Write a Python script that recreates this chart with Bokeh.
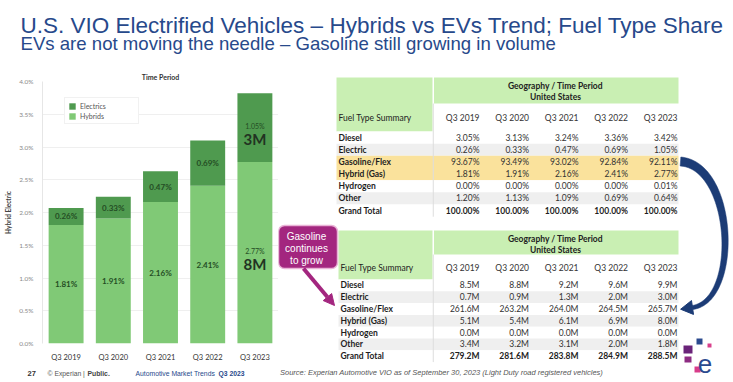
import numpy as np
from bokeh.plotting import figure
from bokeh.models import (ColumnDataSource, Range1d, FactorRange, Legend, LegendItem,
                          FixedTicker, PrintfTickFormatter, Arrow, NormalHead)
from bokeh.layouts import column, row
from bokeh.core.properties import value
from bokeh.embed import file_html
from bokeh.resources import INLINE

# ---------------- data ----------------
periods = ["Q3 2019", "Q3 2020", "Q3 2021", "Q3 2022", "Q3 2023"]
fuel_types = ["Diesel", "Electric", "Gasoline/Flex", "Hybrid (Gas)", "Hydrogen", "Other", "Grand Total"]

diesel_share = [3.05, 3.13, 3.24, 3.36, 3.42]
electric_share = [0.26, 0.33, 0.47, 0.69, 1.05]
gasoline_share = [93.67, 93.49, 93.02, 92.84, 92.11]
hybrid_share = [1.81, 1.91, 2.16, 2.41, 2.77]
hydrogen_share = [0.00, 0.00, 0.00, 0.00, 0.01]
other_share = [1.20, 1.13, 1.09, 0.69, 0.64]
total_share = [100.00, 100.00, 100.00, 100.00, 100.00]

diesel_vol = [8.5, 8.8, 9.2, 9.6, 9.9]
electric_vol = [0.7, 0.9, 1.3, 2.0, 3.0]
gasoline_vol = [261.6, 263.2, 264.0, 264.5, 265.7]
hybrid_vol = [5.1, 5.4, 6.1, 6.9, 8.0]
hydrogen_vol = [0.0, 0.0, 0.0, 0.0, 0.0]
other_vol = [3.4, 3.2, 3.1, 2.0, 1.8]
total_vol = [279.2, 281.6, 283.8, 284.9, 288.5]

y_ticks = [0.0, 0.5, 1.0, 1.5, 2.0, 2.5, 3.0, 3.5, 4.0]

title_text = "U.S. VIO Electrified Vehicles \u2013 Hybrids vs EVs Trend; Fuel Type Share"
subtitle_text = "EVs are not moving the needle \u2013 Gasoline still growing in volume"
source_text = "Source: Experian Automotive VIO as of September 30, 2023  (Light Duty road registered vehicles)"

# ---------------- styles ----------------
NAVY = "#27498b"
ELE = "#4f9a4f"
HYB = "#80c976"
LBL = "#244d24"
GREEN_HDR = "#c9efb3"
STRIPE = "#efefef"
YELLOW = "#fae29c"
PURPLE = "#a3267f"
ARROW_BLUE = "#1c3c76"
SANS = value("Liberation Sans")
LATO = value("Lato")

HDR_H = 58
FOOT_TOP = 364


def blank(width, height, xr, yr):
    p = figure(width=width, height=height, x_range=Range1d(*xr), y_range=Range1d(*yr),
               x_axis_type=None, y_axis_type=None, toolbar_location=None,
               output_backend="svg", min_border=0, outline_line_color=None)
    p.xgrid.visible = False
    p.ygrid.visible = False
    p.background_fill_color = "white"
    p.border_fill_color = "white"
    return p


# ---------------- header ----------------
H = blank(733, HDR_H, (0, 733), (HDR_H, 0))
H.text(x=[20], y=[25], text=[title_text], text_font=SANS, text_font_size="22.5px",
       text_color=NAVY, text_baseline="alphabetic", text_align="left")
H.text(x=[20], y=[43], text=[subtitle_text], text_font=SANS, text_font_size="18.6px",
       text_color=NAVY, text_baseline="alphabetic", text_align="left")

# ---------------- bar chart ----------------
FRAME_L, FRAME_T, FRAME_B = 42, 81, 346
C = figure(width=278, height=FOOT_TOP - HDR_H, x_range=FactorRange(*periods),
           y_range=Range1d(0, 4.0), toolbar_location=None, output_backend="svg",
           min_border_left=FRAME_L, min_border_right=0, min_border_top=FRAME_T - HDR_H,
           min_border_bottom=FOOT_TOP - FRAME_B, outline_line_color=None)
C.title.text = "Time Period"
C.title.align = "center"
C.title.text_font = "Lato"
C.title.text_font_size = "7px"
C.title.text_font_style = "bold"
C.title.text_color = "#333333"
C.title.standoff = 1

src = ColumnDataSource(dict(period=periods, hybrids=hybrid_share, electrics=electric_share))
rs = C.vbar_stack(["hybrids", "electrics"], x="period", width=0.74, color=[HYB, ELE],
                  line_color=None, source=src)

h_mid = [h / 2 for h in hybrid_share]
e_mid = [h + e / 2 for h, e in zip(hybrid_share, electric_share)]

C.text(x=periods[:4] + periods[:4], y=h_mid[:4] + e_mid[:4],
       text=[f"{v:.2f}%" for v in hybrid_share[:4] + electric_share[:4]],
       text_font=LATO, text_font_size="8px", text_font_style="bold", text_color=LBL,
       text_align="center", text_baseline="middle")
C.text(x=[periods[4], periods[4]], y=[h_mid[4], e_mid[4]],
       text=[f"{hybrid_share[4]:.2f}%", f"{electric_share[4]:.2f}%"],
       text_font=LATO, text_font_size="7px", text_color=LBL, y_offset=-2,
       text_align="center", text_baseline="middle")
C.text(x=[periods[4], periods[4]], y=[h_mid[4], e_mid[4]],
       text=[f"{hybrid_vol[4]:.0f}M", f"{electric_vol[4]:.0f}M"],
       text_font=LATO, text_font_size="15px", text_font_style="bold", text_color="#223322",
       y_offset=11, text_align="center", text_baseline="middle")

C.yaxis.ticker = FixedTicker(ticks=y_ticks)
C.yaxis.formatter = PrintfTickFormatter(format="%.1f%%")
C.yaxis.major_label_text_font = "Lato"
C.yaxis.major_label_text_font_size = "6.5px"
C.yaxis.major_label_text_color = "#8a8a8a"
C.yaxis.major_tick_line_color = None
C.yaxis.minor_tick_line_color = None
C.yaxis.axis_line_color = "#e6e6e6"
C.yaxis.major_label_standoff = 3
C.yaxis.axis_label = "Hybrid Electric"
C.yaxis.axis_label_text_font = "Lato"
C.yaxis.axis_label_text_font_size = "6.5px"
C.yaxis.axis_label_text_font_style = "bold"
C.yaxis.axis_label_text_color = "#444444"
C.yaxis.axis_label_standoff = 4

C.xaxis.axis_line_color = None
C.xaxis.major_tick_line_color = None
C.xaxis.minor_tick_line_color = None
C.xaxis.major_label_text_font = "Lato"
C.xaxis.major_label_text_font_size = "7.5px"
C.xaxis.major_label_text_color = "#333333"
C.xaxis.major_label_standoff = 3

C.xgrid.grid_line_color = None
C.ygrid.grid_line_color = "#efefef"

legend = Legend(items=[LegendItem(label="Electrics", renderers=[rs[1]]),
                       LegendItem(label="Hybrids", renderers=[rs[0]])],
                location=(22, 219), label_text_font="Lato", label_text_font_size="7px",
                label_text_color="#555555", glyph_height=8, glyph_width=8, padding=3,
                spacing=1, margin=0, label_standoff=4, label_height=9, label_width=55,
                border_line_color="#e3e3e3", background_fill_color="white")
C.add_layout(legend)

# ---------------- footer (left) ----------------
F = blank(278, 382 - FOOT_TOP, (0, 278), (382, FOOT_TOP))
FY = 372.5
foot_x = [27, 47, 87, 135, 218]
foot_text = ["27", "\u00a9 Experian | ", "Public.", "Automotive Market Trends ", "Q3 2023"]
foot_style = ["bold", "normal", "bold", "normal", "bold"]
foot_color = ["#333333", "#555555", "#444444", NAVY, NAVY]
foot_size = ["7.5px", "6.8px", "6.8px", "6.8px", "6.8px"]
for X, txt, st, col, sz in zip(foot_x, foot_text, foot_style, foot_color, foot_size):
    F.text(x=[X], y=[FY], text=[txt], text_font=SANS, text_font_size=sz,
           text_font_style=st, text_color=col, text_baseline="middle", text_align="left")

# ---------------- right panel: tables ----------------
R = blank(455, 382 - HDR_H, (278, 733), (382, HDR_H))

share_rows = [diesel_share, electric_share, gasoline_share, hybrid_share,
              hydrogen_share, other_share, total_share]
vol_rows = [diesel_vol, electric_vol, gasoline_vol, hybrid_vol,
            hydrogen_vol, other_vol, total_vol]

LABEL_RIGHT = 432
COL_RIGHTS = [479, 528.5, 578, 627.5, 677]


def draw_table(p, left, right, top, geo_bottom, hdr_bottom, row_h, rows, fmt, highlight):
    p.quad(left=[left, LABEL_RIGHT + 1.5], right=[LABEL_RIGHT, right],
           top=[top, top], bottom=[hdr_bottom, geo_bottom],
           fill_color=GREEN_HDR, line_color=None)
    lefts, rights, tops, bottoms, colors = [], [], [], [], []
    for i, name in enumerate(fuel_types):
        y0 = hdr_bottom + i * row_h
        if name in highlight:
            c = YELLOW
        elif i in (1, 3, 5):
            c = STRIPE
        else:
            c = "white"
        lefts.append(left); rights.append(right)
        tops.append(y0); bottoms.append(y0 + row_h); colors.append(c)
    p.quad(left=lefts, right=rights, top=tops, bottom=bottoms, fill_color=colors, line_color=None)
    bottom = hdr_bottom + len(fuel_types) * row_h
    p.segment(x0=[LABEL_RIGHT + 0.75], y0=[geo_bottom], x1=[LABEL_RIGHT + 0.75], y1=[bottom],
              line_color="#dddddd", line_width=1)
    mid = (LABEL_RIGHT + right) / 2
    p.text(x=[mid, mid], y=[top + 8, top + 19], text=["Geography / Time Period", "United States"],
           text_font=LATO, text_font_size="8.5px", text_font_style="bold", text_color="#222222",
           text_align="center", text_baseline="middle")
    hy = (geo_bottom + hdr_bottom) / 2 + 0.5
    p.text(x=[left + 2], y=[hy], text=["Fuel Type Summary"], text_font=LATO,
           text_font_size="8.5px", text_color="#222222", text_baseline="middle")
    p.text(x=COL_RIGHTS, y=[hy] * 5, text=periods, text_font=LATO, text_font_size="8.5px",
           text_color="#333333", text_align="right", text_baseline="middle")
    centers = [hdr_bottom + (i + 0.5) * row_h for i in range(len(fuel_types))]
    p.text(x=[left + 2] * len(fuel_types), y=centers, text=fuel_types, text_font=LATO,
           text_font_size="8.5px", text_font_style="bold", text_color="#1e1e1e",
           text_baseline="middle")
    xs, ys, ts = [], [], []
    for i, vals in enumerate(rows[:-1]):
        for j, v in enumerate(vals):
            xs.append(COL_RIGHTS[j]); ys.append(centers[i]); ts.append(fmt(v))
    p.text(x=xs, y=ys, text=ts, text_font=LATO, text_font_size="8.5px", text_color="#333333",
           text_align="right", text_baseline="middle")
    p.text(x=COL_RIGHTS, y=[centers[-1]] * 5, text=[fmt(v) for v in rows[-1]], text_font=LATO,
           text_font_size="8.5px", text_font_style="bold", text_color="#1e1e1e",
           text_align="right", text_baseline="middle")


draw_table(R, 336, 678, 77, 103, 131, 12.17, share_rows, lambda v: f"{v:.2f}%",
           ["Gasoline/Flex", "Hybrid (Gas)"])
draw_table(R, 338, 678, 230, 254, 279, 11.8, vol_rows, lambda v: f"{v:.1f}M", [])

# callout
R.quad(left=[278], right=[337], top=[225], bottom=[268], fill_color=PURPLE,
       line_color="#e9b3d6", line_width=1.5, border_radius=6)
R.text(x=[306, 306, 306], y=[236, 248, 260], text=["Gasoline", "continues", "to grow"],
       text_font=SANS, text_font_size="10px", text_color="white",
       text_align="center", text_baseline="middle")
R.add_layout(Arrow(end=NormalHead(size=11, fill_color=PURPLE, line_color=PURPLE),
                   x_start=303, y_start=268, x_end=334, y_end=305,
                   line_color=PURPLE, line_width=4))

# curved blue arrow (tapered)
t = np.linspace(0, 1, 80)
P0 = np.array([680.0, 161.0]); P1 = np.array([734.0, 165.0])
P2 = np.array([740.0, 300.0]); P3 = np.array([692.0, 307.0])
B = (((1 - t) ** 3)[:, None] * P0 + (3 * (1 - t) ** 2 * t)[:, None] * P1
     + (3 * (1 - t) * t ** 2)[:, None] * P2 + (t ** 3)[:, None] * P3)
dB = ((3 * (1 - t) ** 2)[:, None] * (P1 - P0) + (6 * (1 - t) * t)[:, None] * (P2 - P1)
      + (3 * t ** 2)[:, None] * (P3 - P2))
nrm = np.stack([-dB[:, 1], dB[:, 0]], axis=1)
nrm /= np.linalg.norm(nrm, axis=1)[:, None]
hw = 4.5 * (1 - t) + 2.0 * t
lside = B + nrm * hw[:, None]
rside = B - nrm * hw[:, None]
R.patch(x=list(lside[:, 0]) + list(rside[::-1, 0]), y=list(lside[:, 1]) + list(rside[::-1, 1]),
        fill_color=ARROW_BLUE, line_color=ARROW_BLUE, line_width=0.5)
d = dB[-1] / np.linalg.norm(dB[-1])
n_end = np.array([-d[1], d[0]])
tip = P3 + 12 * d
b1 = P3 + 7 * n_end
b2 = P3 - 7 * n_end
R.patch(x=[tip[0], b1[0], b2[0]], y=[tip[1], b1[1], b2[1]], fill_color=ARROW_BLUE,
        line_color=ARROW_BLUE)

# Experian logo
R.quad(left=[696, 707, 683, 684, 694], right=[702, 711, 692, 691, 700],
       top=[338, 343, 345, 356, 366], bottom=[344, 347, 353, 362, 372],
       fill_color=["#2b4a8e", "#d8408c", "#6a2379", "#8d2c82", "#d83c8a"], line_color=None)
R.text(x=[704.5], y=[363], text=["e"], text_font=SANS, text_font_size="26px",
       text_color="#2b4a8e", text_align="center", text_baseline="alphabetic")

# source
R.text(x=[279.5], y=[371.5], text=[source_text], text_font=SANS, text_font_size="7.5px",
       text_font_style="italic", text_color="#555555", text_baseline="middle")

layout = column(H, row(column(C, row(F)), R))
open("out.html", "w").write(file_html(layout, INLINE))
